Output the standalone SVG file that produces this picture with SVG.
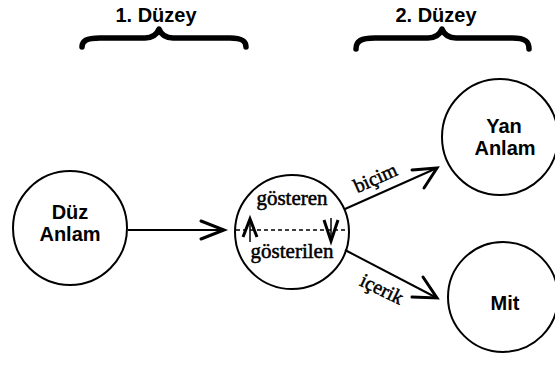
<svg xmlns="http://www.w3.org/2000/svg" width="555" height="369" viewBox="0 0 555 369">
<defs>
<style>
.node{fill:#fff;stroke:#000;stroke-width:2}
.lbl{font-family:"Liberation Sans",Arial,sans-serif;font-weight:bold;font-size:20px;fill:#000;text-anchor:middle}
.ser{font-family:"Liberation Serif","Times New Roman",serif;fill:#000;stroke:#000;stroke-width:0.5;text-anchor:middle}
.edge{stroke:#000;stroke-width:2;fill:none}
.head{stroke:#000;stroke-width:3;fill:none;stroke-linecap:round;stroke-linejoin:miter}
.brace{stroke:#000;stroke-width:5.5;fill:none;stroke-linecap:round;stroke-linejoin:round}
</style>
</defs>
<rect width="555" height="369" fill="#fff"/>
<g id="level1">
<text class="lbl" x="156" y="22">1. Düzey</text>
<path class="brace" d="M82,47 C82,41 86,38 100,38 L145,38 C153,38 157,34 159,29 C161,34 165,38 173,38 L230,38 C242,38 246,41 246,47"/>
</g>
<g id="level2">
<text class="lbl" x="436" y="22">2. Düzey</text>
<path class="brace" d="M356,49 C356,41 361,38 375,38 L428,38 C436,38 440,34 442,29 C444,34 448,38 456,38 L512,38 C526,38 529,42 529,49"/>
</g>
<g id="duz-anlam">
<circle class="node" cx="70" cy="228" r="57"/>
<text class="lbl" x="70" y="219">Düz</text>
<text class="lbl" x="70" y="241">Anlam</text>
</g>
<g id="gosteren">
<circle class="node" cx="292" cy="232" r="57"/>
<line x1="236" y1="230" x2="349" y2="230" stroke="#000" stroke-width="1.5" stroke-dasharray="4,3"/>
<text class="ser" x="292" y="205" font-size="21">gösteren</text>
<text class="ser" x="292" y="258" font-size="21">gösterilen</text>
<line x1="250" y1="222" x2="250" y2="242" stroke="#000" stroke-width="1.5"/>
<path d="M243,237 L250,219 L257,237" stroke="#000" stroke-width="3" fill="none"/>
<line x1="331" y1="218" x2="331" y2="238" stroke="#000" stroke-width="1.5"/>
<path d="M324,220 L331,241 L338,220" stroke="#000" stroke-width="3" fill="none"/>
</g>
<g id="yan-anlam">
<circle class="node" cx="500" cy="137" r="58"/>
<text class="lbl" x="504" y="133">Yan</text>
<text class="lbl" x="505" y="155">Anlam</text>
</g>
<g id="mit">
<circle class="node" cx="503" cy="297" r="55"/>
<text class="lbl" x="505" y="310">Mit</text>
</g>
<g id="connectors">
<line class="edge" x1="128" y1="230" x2="224" y2="230"/>
<path class="head" d="M201,221 L224,230 L201,239"/>
<line class="edge" x1="345" y1="209" x2="437" y2="168"/>
<path class="head" d="M412,170 L437,168 L424,188"/>
<text class="ser" font-size="20" transform="translate(378,184) rotate(-24)">biçim</text>
<line class="edge" x1="345" y1="250" x2="437" y2="298"/>
<path class="head" d="M423,277 L437,298 L412,297"/>
<text class="ser" font-size="20" transform="translate(379,295) rotate(26)">içerik</text>
</g>
</svg>
